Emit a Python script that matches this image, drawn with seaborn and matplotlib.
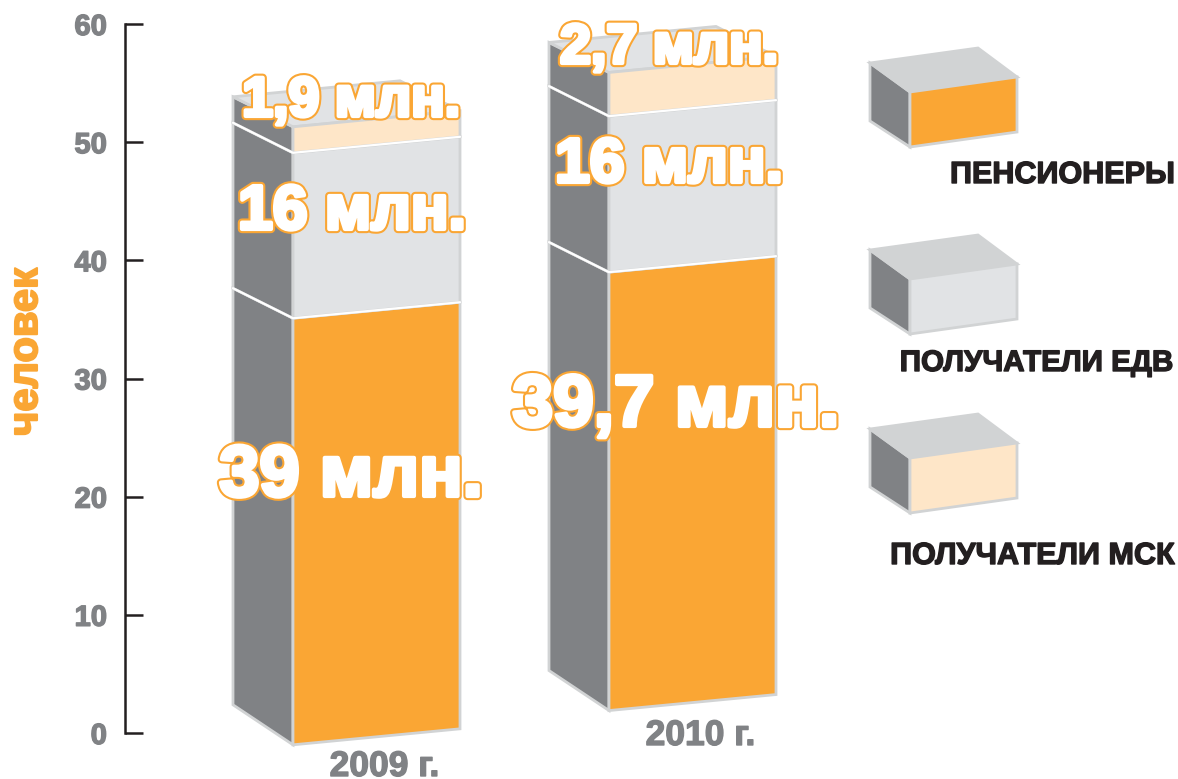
# stacked pseudo-3d bars: pensioners / EDV / MSK recipients
import matplotlib
matplotlib.use('Agg')
import matplotlib.pyplot as plt
import matplotlib.patheffects as pe
from matplotlib.transforms import Affine2D
import numpy as np
import seaborn as sns

years = ['2009 г.', '2010 г.']
# segment heights read against the left axis, the bars start at different levels
base = [-1.0, 1.9]
pensioners = [36.1, 37.1]
edv = [14.0, 13.2]
msk = [2.2, 3.7]
ticks = [0, 10, 20, 30, 40, 50, 60]
labels_2009 = ['39 млн.', '16 млн.', '1,9 млн.']
labels_2010 = ['39,7 млн.', '16 млн.', '2,7 млн.']
legend_names = ['ПЕНСИОНЕРЫ', 'ПОЛУЧАТЕЛИ ЕДВ', 'ПОЛУЧАТЕЛИ МСК']

ORANGE = '#faa634'
LIGHT = '#e1e3e5'
CREAM = '#fee6c8'
SIDE = '#808285'
EDGE = '#d1d3d4'
DARK = '#231f20'

W, H = 1178, 779
# pixel helpers for the decoration placement (axis 0 at y=733, 60 at y=24)
PX_Y = (733 - 24) / 60
PX_X = 316
def to_x(px):
    return (px - 376.5) / PX_X
def to_y(px):
    return (733 - px) / PX_Y

sns.set_theme(style='white')
plt.rcParams['font.family'] = ['Liberation Sans', 'DejaVu Sans']

fig = plt.figure(figsize=(W / 100, H / 100), dpi=100)
ax = fig.add_axes([0, 0, 1, 1])
ax.patch.set_visible(False)

bar_w = 167 / PX_X
depth = 60 / PX_X
rise_base = 40 / PX_Y
rise = 30 / PX_Y
slope = (16 / PX_Y) / bar_w

def fat(colour, lw=1.0):
    return [pe.withStroke(linewidth=lw, foreground=colour)]

bottom = np.array(base, dtype=float)
tops = [bottom.copy()]
for values, colour in zip([pensioners, edv, msk], [ORANGE, LIGHT, CREAM]):
    n_before = len(ax.patches)
    sns.barplot(x=years, y=values, bottom=bottom, color=colour, saturation=1,
                width=bar_w, edgecolor=EDGE, linewidth=2, ax=ax, zorder=3)
    for rect in ax.patches[n_before:]:
        x0 = rect.get_x()
        skew = Affine2D.from_values(1, slope, 0, 1, 0, -slope * x0)
        rect.set_transform(skew + ax.transData)
    bottom = bottom + np.array(values)
    tops.append(bottom.copy())

# side and top faces come from the same stacked values
for i in range(2):
    x0 = i - bar_w / 2
    x1 = i + bar_w / 2
    for lev in range(3):
        y0, y1 = tops[lev][i], tops[lev + 1][i]
        r0 = rise_base if lev == 0 else rise
        ax.fill([x0, x0, x0 - depth, x0 - depth], [y0, y1, y1 + rise, y0 + r0],
                facecolor=SIDE, edgecolor=EDGE, linewidth=2, zorder=2)
    yt = tops[3][i]
    ax.fill([x0, x1, x1 - depth, x0 - depth],
            [yt, yt + slope * bar_w, yt + slope * bar_w + rise, yt + rise],
            facecolor=LIGHT, edgecolor=EDGE, linewidth=2, zorder=2)
    # white joints between the segments
    for lev in [1, 2]:
        yj = tops[lev][i]
        ax.plot([x0 - depth, x0, x1], [yj + rise, yj, yj + slope * bar_w],
                color='white', lw=1.6, zorder=4)
    ax.text(i + 8 / PX_X, to_y(745 if i == 1 else 776), years[i], ha='center', va='baseline',
            color=SIDE, fontsize=25.5, fontweight='bold', path_effects=fat(SIDE))

# legend boxes
def legend_box(dy, colour):
    xs = np.array([870, 910, 1017, 978])
    ax.fill(to_x(np.array([870, 910, 910, 870])), to_y(np.array([63, 92, 147, 121]) + dy),
            facecolor=SIDE, edgecolor=EDGE, linewidth=2)
    ax.fill(to_x(xs), to_y(np.array([63, 92, 77, 48]) + dy),
            facecolor=EDGE, edgecolor=EDGE, linewidth=2)
    ax.fill(to_x(np.array([910, 1017, 1017, 910])), to_y(np.array([92, 77, 132, 147]) + dy),
            facecolor=colour, edgecolor=EDGE, linewidth=2)

for dy, colour in zip([0, 187, 366], [ORANGE, LIGHT, CREAM]):
    legend_box(dy, colour)
for name, py, size in zip(legend_names, [183, 371, 564], [22, 21.3, 22]):
    ax.text(to_x(1174), to_y(py), name, ha='right', va='baseline', color=DARK,
            fontsize=size, fontweight='bold', path_effects=fat(DARK))

# outlined value labels, the white stroke makes the letters heavier
outline = [pe.withStroke(linewidth=6, foreground=ORANGE), pe.withStroke(linewidth=3, foreground='white')]
def value_label(txt, px, py, size):
    ax.text(to_x(px), to_y(py), txt, ha='center', va='baseline', color='white', fontsize=size,
            fontweight='bold', path_effects=outline, zorder=6)

value_label(labels_2009[0], 351, 496, 52)
value_label(labels_2009[1], 352, 229, 45)
value_label(labels_2009[2], 351, 116, 40)
value_label(labels_2010[0], 676, 426, 52.5)
value_label(labels_2010[1], 669, 182, 45)
value_label(labels_2010[2], 669, 63, 40)

ax.set_xlim(to_x(0), to_x(W))
ax.set_ylim(to_y(H), to_y(0))
ax.set_xticks([])
ax.set_xlabel('')
for side in ['top', 'right', 'bottom']:
    ax.spines[side].set_visible(False)
# spine position resets the ticks, so this comes before the tick styling
ax.spines['left'].set_position(('axes', 125 / W))
ax.spines['left'].set_bounds(0, 60)
ax.spines['left'].set_color(DARK)
ax.spines['left'].set_linewidth(1.8)
ax.set_yticks(ticks, labels=[str(t) for t in ticks], fontweight='bold', path_effects=fat(SIDE))
ax.tick_params(axis='y', direction='in', length=13, width=1.8, color=DARK, labelsize=21,
               labelcolor=SIDE, pad=13, left=True)
ax.set_ylabel('человек', color=ORANGE, fontsize=30, fontweight='bold', path_effects=fat(ORANGE, 1.5))
ax.yaxis.set_label_coords(46 / W, 1 - 352 / H)

fig.savefig('out.png', dpi=100)
